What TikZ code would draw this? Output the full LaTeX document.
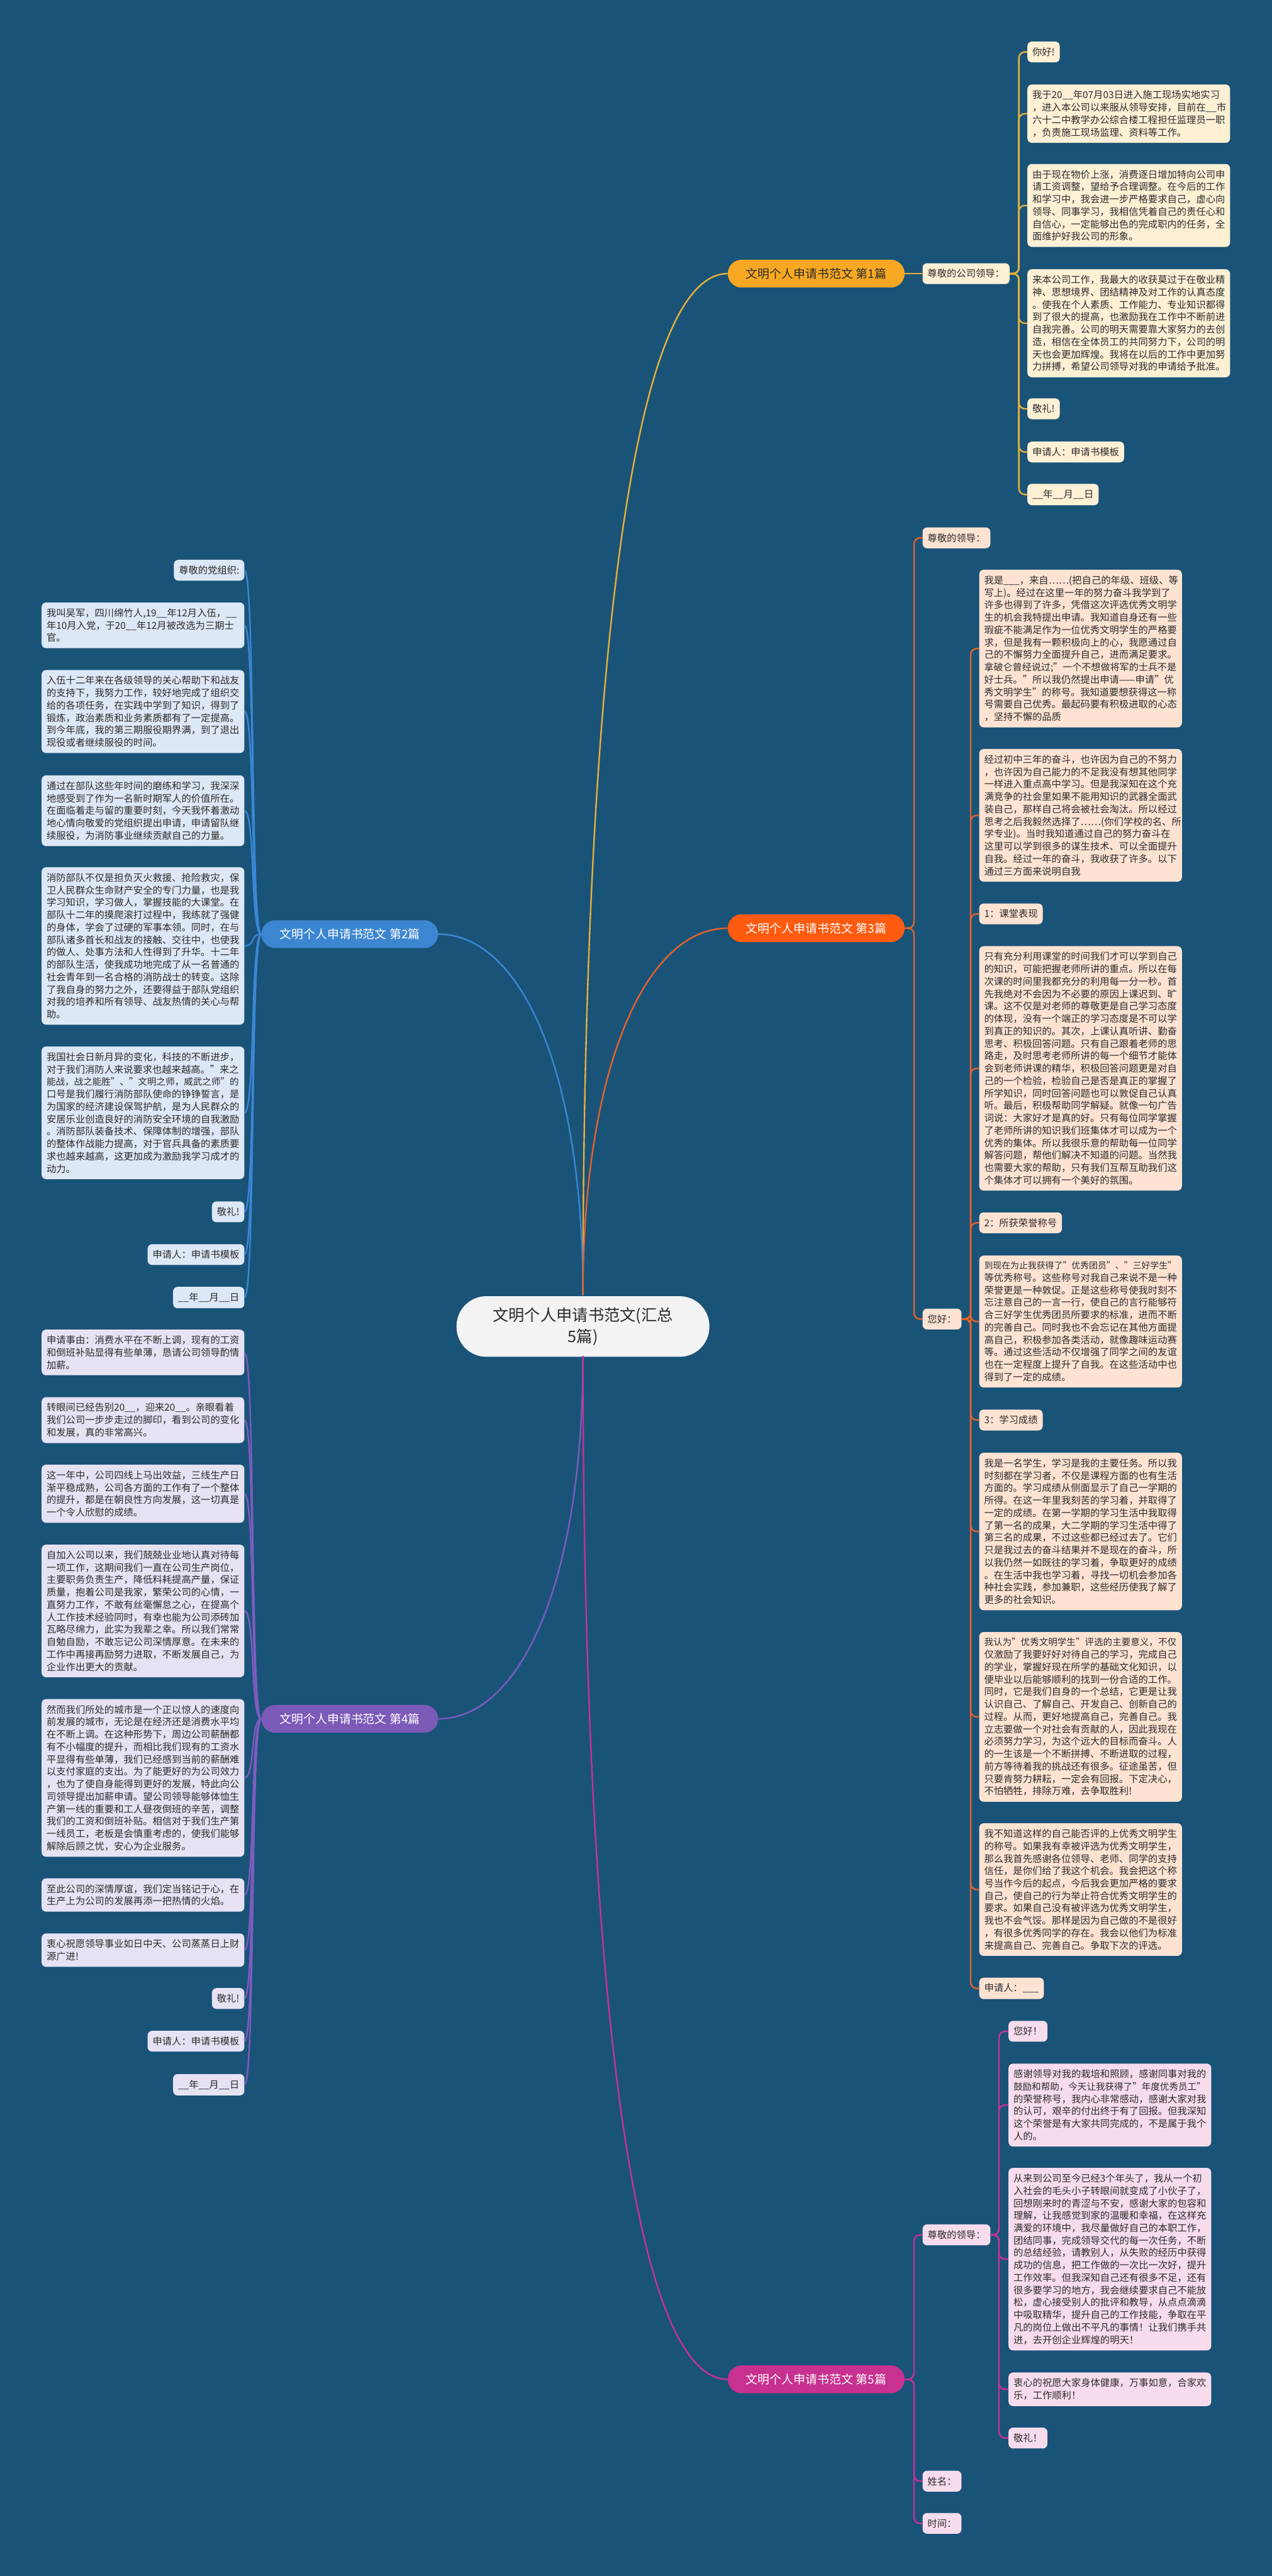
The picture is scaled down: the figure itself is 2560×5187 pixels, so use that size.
\documentclass[tikz,border=0pt]{standalone}
\usepackage{fontspec}
\usepackage{graphicx}
\setmainfont{Noto Sans CJK SC}
\newsavebox\flbox
\newcommand\fitln[1]{\sbox\flbox{#1}\ifdim\wd\flbox>387pt\resizebox{387pt}{!}{\usebox\flbox}\else\usebox\flbox\fi}
\definecolor{bg}{HTML}{1A5378}
\definecolor{txt}{HTML}{2B2B2B}
\definecolor{bAl}{HTML}{E6B23A}\definecolor{bAf}{HTML}{F7A823}\definecolor{bAb}{HTML}{FDF0D5}
\definecolor{bBl}{HTML}{3A87D6}\definecolor{bBf}{HTML}{3C86D1}\definecolor{bBb}{HTML}{DCE8F6}
\definecolor{bCl}{HTML}{E8632A}\definecolor{bCf}{HTML}{FF5B10}\definecolor{bCb}{HTML}{FEE3D3}
\definecolor{bDl}{HTML}{7E5CC0}\definecolor{bDf}{HTML}{7C5AB8}\definecolor{bDb}{HTML}{E6E2F4}
\definecolor{bEl}{HTML}{C9319A}\definecolor{bEf}{HTML}{C8318F}\definecolor{bEb}{HTML}{F7DCEE}
\definecolor{rootf}{HTML}{F3F3F3}
\tikzset{
  leaf/.style={rounded corners=9pt, inner xsep=10pt, inner ysep=12pt, align=left,
    font=\fontsize{19.4}{25}\selectfont, text=txt},
  wide/.style={leaf, text width=388pt},
  lab/.style={rounded corners=28pt, minimum height=56pt, minimum width=356pt, inner sep=0pt,
    font=\fontsize{24}{28}\selectfont, text=white},
  rootbox/.style={rounded corners=60pt, minimum height=122pt, minimum width=509pt, inner sep=0pt,
    align=center, fill=rootf, text=txt, font=\fontsize{32}{44}\selectfont},
  cA/.style={draw=bAl, line width=3pt, rounded corners=12pt},
  cB/.style={draw=bBl, line width=3pt},
  cC/.style={draw=bCl, line width=3pt, rounded corners=12pt},
  cD/.style={draw=bDl, line width=3pt},
  cE/.style={draw=bEl, line width=3pt, rounded corners=12pt},
}
\begin{document}
\begin{tikzpicture}[x=1pt,y=-1pt]
\fill[bg] (0,0) rectangle (2560,5187);
\useasboundingbox (0,0) rectangle (2560,5187);

% root
\node[rootbox] (R) at (1173.5,2671) {文明个人申请书范文(汇总\\5篇)};
\coordinate (Rt) at (1173.5,2608);
\coordinate (Rb) at (1173.5,2730);

% branch labels
\node[lab, fill=bAf, text=txt] (L1) at (1643,551) {文明个人申请书范文 第1篇};
\node[lab, fill=bBf] (L2) at (704,1881) {文明个人申请书范文 第2篇};
\node[lab, fill=bCf] (L3) at (1643,1869) {文明个人申请书范文 第3篇};
\node[lab, fill=bDf] (L4) at (704,3461) {文明个人申请书范文 第4篇};
\node[lab, fill=bEf] (L5) at (1643,4791) {文明个人申请书范文 第5篇};

\draw[cA] (Rt) .. controls (1173.5,1540) and (1250,551) .. (L1.west);
\draw[cB] (Rt) .. controls (1173.5,2150) and (1046,1881) .. (L2.east);
\draw[cC] (Rt) .. controls (1173.5,2150) and (1300,1869) .. (L3.west);
\draw[cD] (Rb) .. controls (1173.5,3190) and (1046,3461) .. (L4.east);
\draw[cE] (Rb) .. controls (1173.5,3800) and (1250,4791) .. (L5.west);

% ================= Branch 1 =================
\node[leaf, fill=bAb, anchor=west] (P1) at (1857,551) {尊敬的公司领导：};
\coordinate (T1) at (2051,0);
\node[leaf, fill=bAb, anchor=north west] (A1) at (2068,83.5) {你好!};
\node[wide, fill=bAb, anchor=north west] (A2) at (2068,170) {我于20\_\_年07月03日进入施工现场实地实习\\，进入本公司以来服从领导安排，目前在\_\_市\\六十二中教学办公综合楼工程担任监理员一职\\，负责施工现场监理、资料等工作。};
\node[wide, fill=bAb, anchor=north west] (A3) at (2068,330) {由于现在物价上涨，消费逐日增加特向公司申\\请工资调整，望给予合理调整。在今后的工作\\和学习中，我会进一步严格要求自己，虚心向\\领导、同事学习，我相信凭着自己的责任心和\\自信心，一定能够出色的完成职内的任务，全\\面维护好我公司的形象。};
\node[wide, fill=bAb, anchor=north west] (A4) at (2068,542) {来本公司工作，我最大的收获莫过于在敬业精\\神、思想境界、团结精神及对工作的认真态度\\。使我在个人素质、工作能力、专业知识都得\\到了很大的提高，也激励我在工作中不断前进\\自我完善。公司的明天需要靠大家努力的去创\\造，相信在全体员工的共同努力下，公司的明\\天也会更加辉煌。我将在以后的工作中更加努\\力拼搏，希望公司领导对我的申请给予批准。};
\node[leaf, fill=bAb, anchor=north west] (A5) at (2068,802) {敬礼!};
\node[leaf, fill=bAb, anchor=north west] (A6) at (2068,889) {申请人：申请书模板};
\node[leaf, fill=bAb, anchor=north west] (A7) at (2068,974) {\_\_年\_\_月\_\_日};
\draw[cA] (L1.east) -- (P1.west);
\foreach \n in {A1,A2,A3,A4,A5,A6,A7}
  \draw[cA] (P1.east) -- (P1.east -| T1) -- (\n.west -| T1) -- (\n.west);

% ================= Branch 2 =================
\node[leaf, fill=bBb, anchor=north east] (B1) at (492,1127) {尊敬的党组织:};
\node[wide, fill=bBb, anchor=north east] (B2) at (492,1213) {我叫吴军，四川绵竹人,19\_\_年12月入伍，\_\_\\年10月入党，于20\_\_年12月被改选为三期士\\官。};
\node[wide, fill=bBb, anchor=north east] (B3) at (492,1349) {入伍十二年来在各级领导的关心帮助下和战友\\的支持下，我努力工作，较好地完成了组织交\\给的各项任务，在实践中学到了知识，得到了\\锻炼，政治素质和业务素质都有了一定提高。\\到今年底，我的第三期服役期界满，到了退出\\现役或者继续服役的时间。};
\node[wide, fill=bBb, anchor=north east] (B4) at (492,1561) {通过在部队这些年时间的磨练和学习，我深深\\地感受到了作为一名新时期军人的价值所在。\\在面临着走与留的重要时刻，今天我怀着激动\\地心情向敬爱的党组织提出申请，申请留队继\\续服役，为消防事业继续贡献自己的力量。};
\node[wide, fill=bBb, anchor=north east] (B5) at (492,1746) {消防部队不仅是担负灭火救援、抢险救灾，保\\卫人民群众生命财产安全的专门力量，也是我\\学习知识，学习做人，掌握技能的大课堂。在\\部队十二年的摸爬滚打过程中，我练就了强健\\的身体，学会了过硬的军事本领。同时，在与\\部队诸多首长和战友的接触、交往中，也使我\\的做人、处事方法和人性得到了升华。十二年\\的部队生活，使我成功地完成了从一名普通的\\社会青年到一名合格的消防战士的转变。这除\\了我自身的努力之外，还要得益于部队党组织\\对我的培养和所有领导、战友热情的关心与帮\\助。};
\node[wide, fill=bBb, anchor=north east] (B6) at (492,2107) {我国社会日新月异的变化，科技的不断进步，\\\fitln{对于我们消防人来说要求也越来越高。"来之}\\\fitln{能战，战之能胜"、"文明之师，威武之师"的}\\口号是我们履行消防部队使命的铮铮誓言，是\\为国家的经济建设保驾护航，是为人民群众的\\安居乐业创造良好的消防安全环境的自我激励\\。消防部队装备技术、保障体制的增强，部队\\的整体作战能力提高，对于官兵具备的素质要\\求也越来越高，这更加成为激励我学习成才的\\动力。};
\node[leaf, fill=bBb, anchor=north east] (B7) at (492,2419) {敬礼!};
\node[leaf, fill=bBb, anchor=north east] (B8) at (492,2505) {申请人：申请书模板};
\node[leaf, fill=bBb, anchor=north east] (B9) at (492,2591) {\_\_年\_\_月\_\_日};
\foreach \n in {B1,B2,B3,B4,B5,B6,B7,B8,B9}
  \draw[cB] (L2.west) .. controls +(-22,0) and +(22,0) .. (\n.east);

% ================= Branch 3 =================
\coordinate (T3) at (1840,0);
\coordinate (T3b) at (1954,0);
\node[leaf, fill=bCb, anchor=west] (C1) at (1857,1083) {尊敬的领导：};
\node[leaf, fill=bCb, anchor=west] (C2) at (1857,2656) {您好：};
\draw[cC] (L3.east) -- (L3.east -| T3) -- (C1.west -| T3) -- (C1.west);
\draw[cC] (L3.east) -- (L3.east -| T3) -- (C2.west -| T3) -- (C2.west);
\node[wide, fill=bCb, anchor=north west] (D1) at (1971,1147) {我是\_\_\_，来自……(把自己的年级、班级、等\\写上)。经过在这里一年的努力奋斗我学到了\\许多也得到了许多，凭借这次评选优秀文明学\\生的机会我特提出申请。我知道自身还有一些\\瑕疵不能满足作为一位优秀文明学生的严格要\\求，但是我有一颗积极向上的心，我愿通过自\\己的不懈努力全面提升自己，进而满足要求。\\\fitln{拿破仑曾经说过;"一个不想做将军的士兵不是}\\\fitln{好士兵。"所以我仍然提出申请——申请"优}\\\fitln{秀文明学生"的称号。我知道要想获得这一称}\\号需要自己优秀。最起码要有积极进取的心态\\，坚持不懈的品质};
\node[wide, fill=bCb, anchor=north west] (D2) at (1971,1508) {经过初中三年的奋斗，也许因为自己的不努力\\，也许因为自己能力的不足我没有想其他同学\\一样进入重点高中学习。但是我深知在这个充\\满竞争的社会里如果不能用知识的武器全面武\\装自己，那样自己将会被社会淘汰。所以经过\\思考之后我毅然选择了……(你们学校的名、所\\学专业)。当时我知道通过自己的努力奋斗在\\这里可以学到很多的谋生技术、可以全面提升\\自我。经过一年的奋斗，我收获了许多。以下\\通过三方面来说明自我};
\node[leaf, fill=bCb, anchor=north west] (D3) at (1971,1819) {1：课堂表现};
\node[wide, fill=bCb, anchor=north west] (D4) at (1971,1905) {只有充分利用课堂的时间我们才可以学到自己\\的知识，可能把握老师所讲的重点。所以在每\\次课的时间里我都充分的利用每一分一秒。首\\先我绝对不会因为不必要的原因上课迟到、旷\\课。这不仅是对老师的尊敬更是自己学习态度\\的体现，没有一个端正的学习态度是不可以学\\到真正的知识的。其次，上课认真听讲、勤奋\\思考、积极回答问题。只有自己跟着老师的思\\路走，及时思考老师所讲的每一个细节才能体\\会到老师讲课的精华，积极回答问题更是对自\\己的一个检验，检验自己是否是真正的掌握了\\所学知识，同时回答问题也可以敦促自己认真\\听。最后，积极帮助同学解疑。就像一句广告\\词说：大家好才是真的好。只有每位同学掌握\\了老师所讲的知识我们班集体才可以成为一个\\优秀的集体。所以我很乐意的帮助每一位同学\\解答问题，帮他们解决不知道的问题。当然我\\也需要大家的帮助，只有我们互帮互助我们这\\个集体才可以拥有一个美好的氛围。};
\node[leaf, fill=bCb, anchor=north west] (D5) at (1971,2441) {2：所获荣誉称号};
\node[wide, fill=bCb, anchor=north west] (D6) at (1971,2528) {\fitln{到现在为止我获得了"优秀团员"、"三好学生"}\\等优秀称号。这些称号对我自己来说不是一种\\荣誉更是一种敦促。正是这些称号使我时刻不\\忘注意自己的一言一行，使自己的言行能够符\\合三好学生优秀团员所要求的标准，进而不断\\的完善自己。同时我也不会忘记在其他方面提\\高自己，积极参加各类活动，就像趣味运动赛\\等。通过这些活动不仅增强了同学之间的友谊\\也在一定程度上提升了自我。在这些活动中也\\得到了一定的成绩。};
\node[leaf, fill=bCb, anchor=north west] (D7) at (1971,2838) {3：学习成绩};
\node[wide, fill=bCb, anchor=north west] (D8) at (1971,2925) {我是一名学生，学习是我的主要任务。所以我\\时刻都在学习者，不仅是课程方面的也有生活\\方面的。学习成绩从侧面显示了自己一学期的\\所得。在这一年里我刻苦的学习着，并取得了\\一定的成绩。在第一学期的学习生活中我取得\\了第一名的成果，大二学期的学习生活中得了\\第三名的成果，不过这些都已经过去了。它们\\只是我过去的奋斗结果并不是现在的奋斗，所\\以我仍然一如既往的学习着，争取更好的成绩\\。在生活中我也学习着，寻找一切机会参加各\\种社会实践，参加兼职，这些经历使我了解了\\更多的社会知识。};
\node[wide, fill=bCb, anchor=north west] (D9) at (1971,3286) {\fitln{我认为"优秀文明学生"评选的主要意义，不仅}\\仅激励了我要好好对待自己的学习，完成自己\\的学业，掌握好现在所学的基础文化知识，以\\便毕业以后能够顺利的找到一份合适的工作。\\同时，它是我们自身的一个总结，它更是让我\\认识自己、了解自己、开发自己、创新自己的\\过程。从而，更好地提高自己，完善自己。我\\立志要做一个对社会有贡献的人，因此我现在\\必须努力学习，为这个远大的目标而奋斗。人\\的一生该是一个不断拼搏、不断进取的过程，\\前方等待着我的挑战还有很多。征途虽苦，但\\只要肯努力耕耘，一定会有回报。下定决心，\\不怕牺牲，排除万难，去争取胜利!};
\node[wide, fill=bCb, anchor=north west] (D10) at (1971,3671) {我不知道这样的自己能否评的上优秀文明学生\\的称号。如果我有幸被评选为优秀文明学生，\\那么我首先感谢各位领导、老师、同学的支持\\信任，是你们给了我这个机会。我会把这个称\\号当作今后的起点，今后我会更加严格的要求\\自己，使自己的行为举止符合优秀文明学生的\\要求。如果自己没有被评选为优秀文明学生，\\我也不会气馁。那样是因为自己做的不是很好\\，有很多优秀同学的存在。我会以他们为标准\\来提高自己、完善自己。争取下次的评选。};
\node[leaf, fill=bCb, anchor=north west] (D11) at (1971,3982) {申请人：\_\_\_};
\foreach \n in {D1,D2,D3,D4,D5,D6,D7,D8,D9,D10,D11}
  \draw[cC] (C2.east) -- (C2.east -| T3b) -- (\n.west -| T3b) -- (\n.west);

% ================= Branch 4 =================
\node[wide, fill=bDb, anchor=north east] (E1) at (492,2677) {申请事由：消费水平在不断上调，现有的工资\\和倒班补贴显得有些单薄，恳请公司领导酌情\\加薪。};
\node[wide, fill=bDb, anchor=north east] (E2) at (492,2813) {转眼间已经告别20\_\_，迎来20\_\_。亲眼看着\\我们公司一步步走过的脚印，看到公司的变化\\和发展，真的非常高兴。};
\node[wide, fill=bDb, anchor=north east] (E3) at (492,2949) {这一年中，公司四线上马出效益，三线生产日\\渐平稳成熟，公司各方面的工作有了一个整体\\的提升，都是在朝良性方向发展，这一切真是\\一个令人欣慰的成绩。};
\node[wide, fill=bDb, anchor=north east] (E4) at (492,3110) {自加入公司以来，我们兢兢业业地认真对待每\\一项工作，这期间我们一直在公司生产岗位，\\主要职务负责生产，降低料耗提高产量，保证\\质量，抱着公司是我家，繁荣公司的心情，一\\直努力工作，不敢有丝毫懈怠之心，在提高个\\人工作技术经验同时，有幸也能为公司添砖加\\瓦略尽绵力，此实为我辈之幸。所以我们常常\\自勉自励，不敢忘记公司深情厚意。在未来的\\工作中再接再励努力进取，不断发展自己，为\\企业作出更大的贡献。};
\node[wide, fill=bDb, anchor=north east] (E5) at (492,3421) {然而我们所处的城市是一个正以惊人的速度向\\前发展的城市，无论是在经济还是消费水平均\\在不断上调。在这种形势下，周边公司薪酬都\\有不小幅度的提升，而相比我们现有的工资水\\平显得有些单薄，我们已经感到当前的薪酬难\\以支付家庭的支出。为了能更好的为公司效力\\，也为了使自身能得到更好的发展，特此向公\\司领导提出加薪申请。望公司领导能够体恤生\\产第一线的重要和工人昼夜倒班的辛苦，调整\\我们的工资和倒班补贴。相信对于我们生产第\\一线员工，老板是会慎重考虑的，使我们能够\\解除后顾之忧，安心为企业服务。};
\node[wide, fill=bDb, anchor=north east] (E6) at (492,3782) {至此公司的深情厚谊，我们定当铭记于心，在\\生产上为公司的发展再添一把热情的火焰。};
\node[wide, fill=bDb, anchor=north east] (E7) at (492,3893) {衷心祝愿领导事业如日中天、公司蒸蒸日上财\\源广进!};
\node[leaf, fill=bDb, anchor=north east] (E8) at (492,4003) {敬礼!};
\node[leaf, fill=bDb, anchor=north east] (E9) at (492,4089) {申请人：申请书模板};
\node[leaf, fill=bDb, anchor=north east] (E10) at (492,4176) {\_\_年\_\_月\_\_日};
\foreach \n in {E1,E2,E3,E4,E5,E6,E7,E8,E9,E10}
  \draw[cD] (L4.west) .. controls +(-22,0) and +(22,0) .. (\n.east);

% ================= Branch 5 =================
\coordinate (T5) at (1840,0);
\coordinate (T5b) at (2011,0);
\node[leaf, fill=bEb, anchor=west] (F1) at (1857,4500) {尊敬的领导：};
\node[leaf, fill=bEb, anchor=west] (F2) at (1857,4996) {姓名：};
\node[leaf, fill=bEb, anchor=west] (F3) at (1857,5081) {时间：};
\foreach \n in {F1,F2,F3}
  \draw[cE] (L5.east) -- (L5.east -| T5) -- (\n.west -| T5) -- (\n.west);
\node[leaf, fill=bEb, anchor=north west] (G1) at (2030,4069) {您好！};
\node[wide, fill=bEb, anchor=north west] (G2) at (2030,4155) {感谢领导对我的栽培和照顾，感谢同事对我的\\\fitln{鼓励和帮助，今天让我获得了"年度优秀员工"}\\的荣誉称号，我内心非常感动，感谢大家对我\\的认可，艰辛的付出终于有了回报。但我深知\\这个荣誉是有大家共同完成的，不是属于我个\\人的。};
\node[wide, fill=bEb, anchor=north west] (G3) at (2030,4365) {从来到公司至今已经3个年头了，我从一个初\\入社会的毛头小子转眼间就变成了小伙子了，\\回想刚来时的青涩与不安，感谢大家的包容和\\理解，让我感觉到家的温暖和幸福，在这样充\\满爱的环境中，我尽量做好自己的本职工作，\\团结同事，完成领导交代的每一次任务，不断\\的总结经验，请教别人，从失败的经历中获得\\成功的信息，把工作做的一次比一次好，提升\\工作效率。但我深知自己还有很多不足，还有\\很多要学习的地方，我会继续要求自己不能放\\松，虚心接受别人的批评和教导，从点点滴滴\\中吸取精华，提升自己的工作技能，争取在平\\凡的岗位上做出不平凡的事情！让我们携手共\\进，去开创企业辉煌的明天！};
\node[wide, fill=bEb, anchor=north west] (G4) at (2030,4777) {衷心的祝愿大家身体健康，万事如意，合家欢\\乐，工作顺利！};
\node[leaf, fill=bEb, anchor=north west] (G5) at (2030,4888) {敬礼！};
\foreach \n in {G1,G2,G3,G4,G5}
  \draw[cE] (F1.east) -- (F1.east -| T5b) -- (\n.west -| T5b) -- (\n.west);
\end{tikzpicture}
\end{document}
